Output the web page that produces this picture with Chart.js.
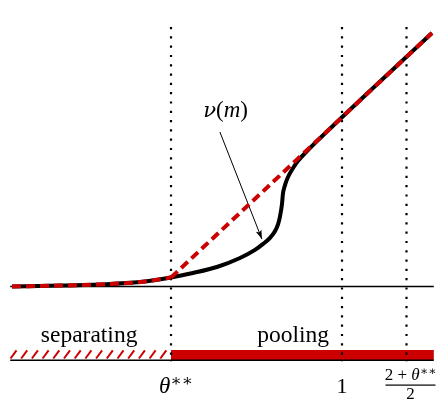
<!DOCTYPE html>
<html>
<head>
<meta charset="utf-8">
<script src="https://cdn.jsdelivr.net/npm/chart.js@4"></script>
<style>
  html, body { margin: 0; padding: 0; background: #fff; }
  #wrap { width: 442px; height: 420px; }
</style>
</head>
<body>
<div id="wrap"><canvas id="chart" width="442" height="420"></canvas></div>
<script>
// --- Données (unités du graphique) ---
const thetaSS = 0.43;                       // θ**
const xTickValues = [thetaSS, 1, (2 + thetaSS) / 2];
const xTickLabels = ['θ**', '1', '(2+θ**)/2'];

// courbe ν(m) (noire)
const curveX = [-0.10, 0.06, 0.193, 0.327, 0.43, 0.503, 0.583, 0.66, 0.71, 0.737, 0.76, 0.777, 0.787, 0.793, 0.80, 0.803, 0.81, 0.82, 0.837, 0.853, 0.877, 1.0, 1.15, 1.30];
const curveY = [0, 0.003, 0.007, 0.015, 0.03, 0.045, 0.065, 0.095, 0.122, 0.142, 0.162, 0.185, 0.208, 0.232, 0.275, 0.308, 0.338, 0.365, 0.395, 0.418, 0.445, 0.564, 0.705, 0.845];

// courbe rouge pointillée : partie séparante puis droite de mélange
const sepX = [-0.10, 0.06, 0.193, 0.327, 0.43];
const sepY = [0, 0.003, 0.007, 0.015, 0.03];
const poolX = [0.43, 1.30];
const poolY = [0.03, 0.845];

// flèche et étiquettes
const arrowX = [0.593, 0.733];
const arrowY = [0.515, 0.158];
const nuLabelPos = [0.612, 0.59];
const regionLabels = ['separating', 'pooling'];
const regionLabelX = [0.157, 0.837];
const regionLabelY = -0.184;

// axes
const xMin = -0.11, xMax = 1.31, yMin = -0.25, yMax = 0.88;
const baseY = 0, lowAxisY = -0.246, barY = -0.228, dotTop = 0.865, dotBottom = -0.252;

const RED = '#cc0000';
const FONT = '"Liberation Serif", "DejaVu Serif", serif';
const GREEK = '"DejaVu Serif", serif';

const pts = (xs, ys) => xs.map((x, i) => ({ x, y: ys[i] }));

const datasets = [];
// lignes horizontales
datasets.push({ data: pts([xMin + 0.004, xMax - 0.004], [baseY, baseY]), borderColor: '#000', borderWidth: 1.4, order: 5 });
datasets.push({ data: pts([xMin + 0.004, xMax - 0.004], [lowAxisY, lowAxisY]), borderColor: '#000', borderWidth: 1.4, order: 4 });
// barre rouge (pooling)
datasets.push({ data: pts([thetaSS, xMax - 0.004], [barY, barY]), borderColor: RED, borderWidth: 10, borderCapStyle: 'butt', order: 6 });
// lignes verticales pointillées
xTickValues.forEach(v => {
  datasets.push({ data: pts([v, v], [dotTop, dotBottom]), borderColor: '#000', borderWidth: 2.2, borderDash: [2.2, 7.1], borderCapStyle: 'butt', order: 3 });
});
// flèche
datasets.push({ data: pts(arrowX, arrowY), borderColor: '#000', borderWidth: 1, order: 3 });
// courbe noire
datasets.push({ data: pts(curveX, curveY), borderColor: '#000', borderWidth: 4, cubicInterpolationMode: 'monotone', borderCapStyle: 'butt', order: 2 });
// rouge pointillé
datasets.push({ data: pts(sepX, sepY), borderColor: RED, borderWidth: 4, borderDash: [9, 5], cubicInterpolationMode: 'monotone', borderCapStyle: 'butt', order: 1 });
datasets.push({ data: pts(poolX, poolY), borderColor: RED, borderWidth: 4, borderDash: [9, 5], tension: 0, borderCapStyle: 'butt', order: 0 });

datasets.forEach(d => { d.pointRadius = 0; d.clip = false; d.fill = false; });

function drawRich(ctx, parts, cx, y, size) {
  // parts: [texte, style ('i' italique, 'g' grec, 's' exposant)]
  const fontOf = p => {
    const st = p[1] || '';
    if (st.includes('s')) return `${size * 0.72}px ${GREEK}`;
    if (st.includes('g')) return `italic ${size * 0.92}px ${GREEK}`;
    return `${st.includes('i') ? 'italic ' : ''}${size}px ${FONT}`;
  };
  const w = parts.map(p => { ctx.font = fontOf(p); return ctx.measureText(p[0]).width; });
  let x = cx - w.reduce((a, b) => a + b, 0) / 2;
  parts.forEach((p, i) => {
    ctx.font = fontOf(p);
    const sup = (p[1] || '').includes('s');
    ctx.fillText(p[0], x, sup ? y - size * 0.28 : y);
    x += w[i];
  });
}

const decor = {
  id: 'decor',
  beforeDatasetsDraw(chart) {
    const { ctx, scales: { x, y } } = chart;
    // hachures (separating)
    const x0 = x.getPixelForValue(xMin + 0.005), x1 = x.getPixelForValue(thetaSS);
    const yb = y.getPixelForValue(-0.24), yt = y.getPixelForValue(-0.213);
    ctx.save();
    ctx.strokeStyle = RED;
    ctx.lineWidth = 2;
    for (let px = x0; px + 6 <= x1 + 0.5; px += 10.7) {
      ctx.beginPath();
      ctx.moveTo(px, yb);
      ctx.lineTo(px + 6, yt);
      ctx.stroke();
    }
    ctx.restore();
  },
  afterDatasetsDraw(chart) {
    const { ctx, scales: { x, y } } = chart;
    ctx.save();
    ctx.fillStyle = '#000';
    // pointe de flèche
    const ax0 = x.getPixelForValue(arrowX[0]), ay0 = y.getPixelForValue(arrowY[0]);
    const ax1 = x.getPixelForValue(arrowX[1]), ay1 = y.getPixelForValue(arrowY[1]);
    const ang = Math.atan2(ay1 - ay0, ax1 - ax0);
    ctx.beginPath();
    ctx.moveTo(ax1, ay1);
    ctx.lineTo(ax1 - 9 * Math.cos(ang) + 3 * Math.sin(ang), ay1 - 9 * Math.sin(ang) - 3 * Math.cos(ang));
    ctx.lineTo(ax1 - 7 * Math.cos(ang), ay1 - 7 * Math.sin(ang));
    ctx.lineTo(ax1 - 9 * Math.cos(ang) - 3 * Math.sin(ang), ay1 - 9 * Math.sin(ang) + 3 * Math.cos(ang));
    ctx.closePath();
    ctx.fill();

    ctx.textBaseline = 'alphabetic';
    ctx.textAlign = 'left';
    // ν(m)
    drawRich(ctx, [['ν', 'g'], ['(', ''], ['m', 'i'], [')', '']],
      x.getPixelForValue(nuLabelPos[0]), y.getPixelForValue(nuLabelPos[1]) + 7, 23);
    // régions
    regionLabels.forEach((t, i) => {
      drawRich(ctx, [[t, '']], x.getPixelForValue(regionLabelX[i]), y.getPixelForValue(regionLabelY), 23.5);
    });
    // graduations
    const tickBase = y.getPixelForValue(yMin) + 31;
    drawRich(ctx, [['θ', 'i'], ['∗∗', 's']], x.getPixelForValue(xTickValues[0]) + 5, tickBase, 23);
    drawRich(ctx, [['1', '']], x.getPixelForValue(xTickValues[1]), tickBase, 22);
    // fraction (2+θ**)/2
    const fx = x.getPixelForValue(xTickValues[2]) + 4;
    drawRich(ctx, [['2 + ', ''], ['θ', 'i'], ['∗∗', 's']], fx, tickBase - 13, 17);
    ctx.fillRect(fx - 25, tickBase - 8, 50, 1.2);
    drawRich(ctx, [['2', '']], fx, tickBase + 6, 17);
    ctx.restore();
  }
};

new Chart(document.getElementById('chart'), {
  type: 'line',
  data: { datasets },
  options: {
    responsive: false,
    animation: false,
    devicePixelRatio: 1,
    layout: { padding: { left: 9, right: 7, top: 22.5, bottom: 58.5 } },
    plugins: { legend: { display: false }, tooltip: { enabled: false } },
    scales: {
      x: { type: 'linear', min: xMin, max: xMax, display: false },
      y: { type: 'linear', min: yMin, max: yMax, display: false }
    }
  },
  plugins: [decor]
});
</script>
</body>
</html>
